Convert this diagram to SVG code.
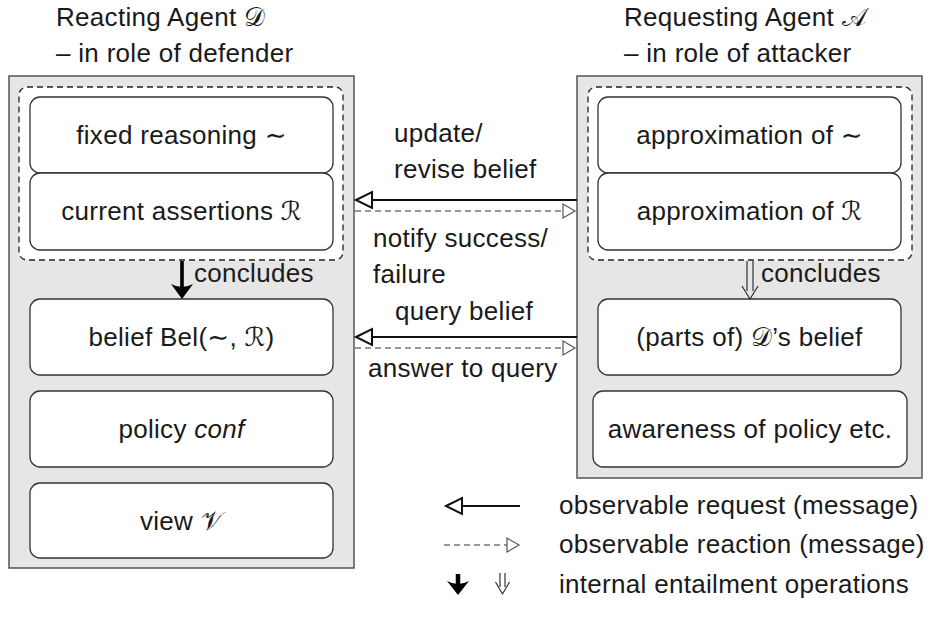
<svg xmlns="http://www.w3.org/2000/svg" width="935" height="621" viewBox="0 0 935 621">
  <style>
    text { font-family: "Liberation Sans", "DejaVu Sans", sans-serif; font-size: 26px; letter-spacing: 0.3px; fill: #1a1a1a; }
    .cal { font-family: "DejaVu Sans", "Noto Sans", "DejaVu Serif", serif; }
    .mid { text-anchor: middle; }
    .panel { fill: #e6e6e6; stroke: #555; stroke-width: 1.5; }
    .group { fill: #fff; stroke: #222; stroke-width: 1.3; stroke-dasharray: 6 4; }
    .box { fill: #fff; stroke: #333; stroke-width: 1.3; }
    .req { stroke: #111; stroke-width: 2; fill: none; }
    .reqhead { fill: #fff; stroke: #111; stroke-width: 2; stroke-linejoin: miter; }
    .rea { stroke: #777; stroke-width: 1.3; stroke-dasharray: 6 4; fill: none; }
    .reahead { fill: #fff; stroke: #555; stroke-width: 1.2; }
    .dbl { stroke: #222; stroke-width: 1.1; fill: none; }
  </style>

  <!-- agent panels -->
  <g id="defender">
    <rect class="panel" x="9" y="76" width="345" height="492"/>
    <text x="56" y="26">Reacting Agent <tspan class="cal">𝒟</tspan></text>
    <text x="56" y="62">– in role of defender</text>
    <rect class="group" x="19" y="87" width="324" height="173" rx="8"/>
  </g>
  <g id="attacker">
    <rect class="panel" x="577" y="76" width="345" height="402"/>
    <text x="624" y="26">Requesting Agent <tspan class="cal">𝒜</tspan></text>
    <text x="624" y="62">– in role of attacker</text>
    <rect class="group" x="588" y="87" width="324" height="173" rx="8"/>
  </g>

  <!-- defender nodes -->
  <g id="fixed-reasoning">
    <rect class="box" x="30" y="97" width="303" height="76" rx="10"/>
    <text class="mid" x="181.5" y="144">fixed reasoning ∼</text>
  </g>
  <g id="current-assertions">
    <rect class="box" x="30" y="173" width="303" height="77" rx="10"/>
    <text class="mid" x="181.5" y="220">current assertions <tspan class="cal">ℛ</tspan></text>
  </g>
  <g id="belief">
    <rect class="box" x="30" y="299" width="303" height="76" rx="10"/>
    <text class="mid" x="181.5" y="346">belief Bel(∼, <tspan class="cal">ℛ</tspan>)</text>
  </g>
  <g id="policy">
    <rect class="box" x="30" y="391" width="303" height="76" rx="10"/>
    <text class="mid" x="181.5" y="438">policy <tspan font-style="italic">conf</tspan></text>
  </g>
  <g id="view">
    <rect class="box" x="30" y="483" width="303" height="75" rx="10"/>
    <text class="mid" x="181.5" y="530">view <tspan class="cal">𝒱</tspan></text>
  </g>

  <!-- attacker nodes -->
  <g id="approx-reasoning">
    <rect class="box" x="598" y="97" width="303" height="76" rx="10"/>
    <text class="mid" x="749.5" y="144">approximation of ∼</text>
  </g>
  <g id="approx-assertions">
    <rect class="box" x="598" y="173" width="303" height="77" rx="10"/>
    <text class="mid" x="749.5" y="220">approximation of <tspan class="cal">ℛ</tspan></text>
  </g>
  <g id="approx-belief">
    <rect class="box" x="598" y="299" width="303" height="76" rx="10"/>
    <text class="mid" x="749.5" y="346">(parts of) <tspan class="cal">𝒟</tspan>’s belief</text>
  </g>
  <g id="awareness">
    <rect class="box" x="593" y="391" width="314" height="76" rx="10"/>
    <text class="mid" x="750" y="438">awareness of policy etc.</text>
  </g>

  <!-- connectors -->
  <g id="connectors">
    <!-- update / revise -->
    <line class="req" x1="577" y1="200" x2="372" y2="200"/>
    <polygon class="reqhead" points="356,200 372,192 372,208"/>
    <line class="rea" x1="355" y1="211" x2="563" y2="211"/>
    <polygon class="reahead" points="575,211 563,204 563,218"/>
    <!-- query / answer -->
    <line class="req" x1="577" y1="337" x2="372" y2="337"/>
    <polygon class="reqhead" points="356,337 372,329 372,345"/>
    <line class="rea" x1="355" y1="348" x2="563" y2="348"/>
    <polygon class="reahead" points="575,348 563,341 563,355"/>
    <!-- defender concludes -->
    <line x1="182" y1="261" x2="182" y2="289" stroke="#000" stroke-width="3.6"/>
    <path d="M182,299 L171,284 Q182,290 193,284 Z" fill="#000"/>
    <!-- attacker concludes -->
    <path class="dbl" d="M747,261 V291 M753,261 V291"/>
    <path class="dbl" d="M742,286 L750,299 L758,286"/>
  </g>

  <!-- message labels -->
  <g id="labels">
    <text x="194" y="282">concludes</text>
    <text x="761" y="282">concludes</text>
    <text x="394" y="142">update/</text>
    <text x="394" y="178">revise belief</text>
    <text x="373" y="247">notify success/</text>
    <text x="373" y="283">failure</text>
    <text x="395" y="320">query belief</text>
    <text x="368" y="377">answer to query</text>
  </g>

  <!-- legend -->
  <g id="legend">
    <line class="req" x1="520" y1="506" x2="462" y2="506"/>
    <polygon class="reqhead" points="446,506 462,498 462,514"/>
    <line class="rea" x1="444" y1="545" x2="507" y2="545"/>
    <polygon class="reahead" points="519,545 507,538 507,552"/>
    <path d="M458,574 V586" stroke="#000" stroke-width="4.5"/>
    <path d="M458,595 L447,581 Q458,587 469,581 Z" fill="#000"/>
    <path class="dbl" d="M500,573 V587 M505,573 V587"/>
    <path class="dbl" d="M495.5,582 L502.5,594 L509.5,582"/>
    <text x="559" y="514">observable request (message)</text>
    <text x="559" y="553">observable reaction (message)</text>
    <text x="559" y="593">internal entailment operations</text>
  </g>
</svg>
